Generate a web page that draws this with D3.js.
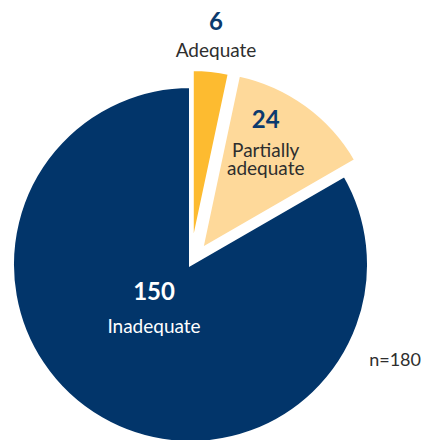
<!DOCTYPE html>
<html>
<head>
<meta charset="utf-8">
<script src="https://cdn.jsdelivr.net/npm/d3@7"></script>
<style>
  html, body { margin: 0; padding: 0; background: #ffffff; }
  svg { display: block; font-family: Lato, "Open Sans", "Noto Sans", sans-serif; }
</style>
</head>
<body>
<svg id="chart" width="422" height="440"></svg>
<script>
// Assessment outcomes, in clockwise order from 12 o'clock
const categories = ["Adequate", "Partially adequate", "Inadequate"];
const counts = [6, 24, 150];
const labelLines = [["Adequate"], ["Partially", "adequate"], ["Inadequate"]];
const sampleNote = "n=180";

const svg = d3.select("#chart");
const width = 422, height = 440;

// pie geometry
const cx = 190.5, cy = 264.5, radius = 178;
const colours = d3.scaleOrdinal()
  .domain(categories)
  .range(["#fdbb30", "#fed99a", "#02356a"]);
const explode = d3.scaleOrdinal().domain(categories).range([17, 19, 0]);

const pie = d3.pie().sort(null).value(d => d.count);
const arcs = pie(categories.map((c, i) => ({ category: c, count: counts[i], lines: labelLines[i] })));
const arc = d3.arc().innerRadius(0).outerRadius(radius);

const polar = (angle, r) => [Math.sin(angle) * r, -Math.cos(angle) * r];

const g = svg.append("g").attr("transform", `translate(${cx},${cy})`);

// navy slice first so the exploded wedges sit above it
const order = arcs.slice().sort((a, b) => b.value - a.value);
const slices = g.selectAll("g.slice")
  .data(order)
  .join("g")
  .attr("class", "slice")
  .attr("transform", d => {
    const mid = (d.startAngle + d.endAngle) / 2;
    const [dx, dy] = polar(mid, explode(d.data.category));
    return `translate(${dx},${dy})`;
  });

slices.append("path")
  .attr("d", arc)
  .attr("fill", d => colours(d.data.category))
  .attr("stroke", "#ffffff")
  .attr("stroke-width", 3)
  .attr("stroke-linejoin", "miter");

// label placement: radius along the slice's mid-angle, then line offsets
const labelRadius = d3.scaleOrdinal().domain(categories).range([227, 109, 73]);
const numberOffset = d3.scaleOrdinal().domain(categories).range([8, -33, -28]);
const nameOffset = d3.scaleOrdinal().domain(categories).range([35, -4, 5]);
const numberColour = d3.scaleOrdinal().domain(categories).range(["#0b3a6e", "#0b3a6e", "#ffffff"]);
const nameColour = d3.scaleOrdinal().domain(categories).range(["#2e2e2e", "#2e2e2e", "#ffffff"]);

slices.each(function (d) {
  const sel = d3.select(this);
  const cat = d.data.category;
  const mid = (d.startAngle + d.endAngle) / 2;
  const [lx, ly] = polar(mid, labelRadius(cat));

  sel.append("text")
    .attr("x", lx)
    .attr("y", ly + numberOffset(cat))
    .attr("text-anchor", "middle")
    .attr("font-size", 24)
    .attr("font-weight", 700)
    .attr("fill", numberColour(cat))
    .text(d.data.count);

  sel.append("text")
    .attr("text-anchor", "middle")
    .attr("font-size", 19)
    .attr("fill", nameColour(cat))
    .selectAll("tspan")
    .data(d.data.lines)
    .join("tspan")
    .attr("x", lx)
    .attr("y", (t, i) => ly + nameOffset(cat) + i * 18.5)
    .text(t => t);
});

svg.append("text")
  .attr("x", 421)
  .attr("y", 366)
  .attr("text-anchor", "end")
  .attr("font-size", 18)
  .attr("fill", "#2e2e2e")
  .text(sampleNote);
</script>
</body>
</html>
